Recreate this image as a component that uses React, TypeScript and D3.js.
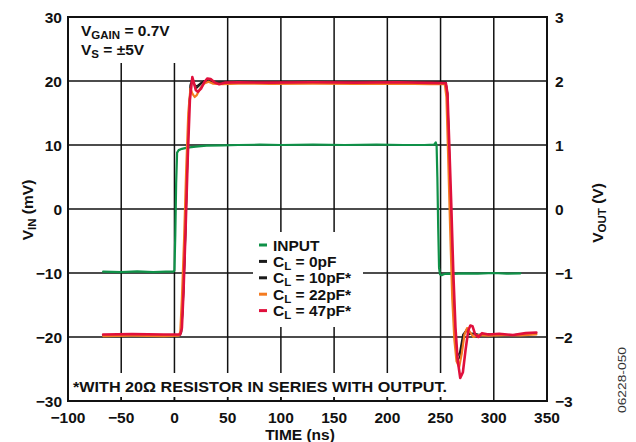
import React from "react";
import * as d3 from "d3";

const W = 636;
const H = 442;

// x and y axis ticks
const xTicks = [-100, -50, 0, 50, 100, 150, 200, 250, 300, 350];
const yLeftTicks = [30, 20, 10, 0, -10, -20, -30];
const yRightTicks = [3, 2, 1, 0, -1, -2, -3];
const xGrid = [-50, 0, 50, 100, 150, 200, 250, 300];
const yGrid = [20, 10, 0, -10, -20];

// INPUT (mV)
const inputT = [-67, -50, -35, -20, -8, -1, 0, 0.8, 1.6, 2.5, 4, 7, 12, 20, 30, 45, 60, 80, 100, 130, 160, 190, 215, 235, 244, 245.5, 246.3, 247, 247.8, 248.6, 249.5, 251, 253, 256, 262, 272, 285, 300, 312, 325];
const inputV = [-9.8, -9.85, -9.75, -9.85, -9.8, -9.8, -9.6, -4, 4, 8.8, 9.2, 9.4, 9.6, 9.75, 9.9, 9.95, 10, 10.05, 10, 10.05, 10, 10.05, 10, 10, 10.05, 10.4, 9.9, 5, -3, -9.2, -10.2, -10.35, -10.2, -10.1, -10.15, -10.05, -10.1, -10, -10.1, -10.05];

// C_L = 0pF (V x 10 on left scale)
const cl0T = [-67, -40, -10, 5, 6.5, 8, 10, 12, 13.5, 15, 17, 19, 21, 24, 28, 32, 36, 45, 60, 90, 130, 170, 210, 240, 255, 256.5, 258, 260, 262, 264, 266, 268, 271, 274, 277, 281, 286, 295, 310, 325, 340];
const cl0V = [-19.7, -19.7, -19.75, -19.7, -19.2, -15, -6, 6, 15, 19.5, 20.1, 19.4, 19.2, 19.6, 20.0, 19.95, 19.75, 19.8, 19.9, 19.85, 19.9, 19.85, 19.9, 19.85, 19.8, 18, 10, -2, -14, -21, -23, -22.4, -19.6, -19.0, -19.6, -19.4, -19.7, -19.6, -19.7, -19.6, -19.5];

// C_L = 10pF
const cl10T = [-67, -40, -10, 5, 6.5, 8, 10, 12, 13.5, 15, 17, 19, 21, 24, 28, 32, 36, 45, 60, 90, 130, 170, 210, 240, 255, 256.5, 258, 260, 262, 264, 266, 268, 271, 274, 277, 281, 286, 295, 310, 325, 340];
const cl10V = [-19.75, -19.7, -19.7, -19.7, -19.3, -15.5, -6.5, 5.5, 14.5, 19.3, 20.2, 19.2, 18.9, 19.4, 20.0, 20.0, 19.8, 19.75, 19.85, 19.8, 19.85, 19.8, 19.85, 19.8, 19.75, 18.2, 10.5, -1.5, -13.5, -21, -23.6, -23.2, -20.2, -18.9, -19.4, -19.5, -19.6, -19.55, -19.7, -19.6, -19.5];

// C_L = 22pF
const cl22T = [-67, -40, -10, 4, 5.5, 7, 9, 11, 13, 15, 17, 19, 21, 24, 28, 32, 36, 45, 60, 90, 130, 170, 210, 240, 254, 255.5, 257, 259, 261, 263, 265, 267.5, 270, 272.5, 275, 278, 281, 286, 295, 310, 325, 340];
const cl22V = [-19.85, -19.8, -19.85, -19.8, -19.2, -14, -5, 6, 15, 18.8, 18.0, 17.5, 17.8, 18.8, 19.6, 19.9, 19.6, 19.5, 19.6, 19.55, 19.6, 19.55, 19.6, 19.5, 19.5, 17.5, 9, -3, -14, -20.5, -23.8, -24.7, -22.5, -19.6, -18.6, -19.3, -20.0, -19.7, -19.8, -19.7, -19.75, -19.6];

// C_L = 47pF
const cl47T = [-67, -40, -10, 5.5, 7, 8.5, 10.5, 12.5, 14.5, 16.8, 18.5, 20, 22, 25, 28, 31, 34, 38, 42, 48, 60, 90, 130, 170, 210, 240, 255, 256.5, 258, 260, 262, 264, 266, 268.5, 271, 273.5, 276, 278, 280, 282.5, 285.5, 289, 295, 305, 318, 330, 340];
const cl47V = [-19.6, -19.55, -19.6, -19.6, -18.6, -13, -3, 8, 17, 20.6, 19.6, 18.6, 18.3, 18.8, 19.8, 20.4, 20.3, 19.75, 19.5, 19.75, 19.8, 19.75, 19.8, 19.75, 19.8, 19.7, 19.65, 18, 11, 1, -10, -18.5, -23.5, -26.4, -25.5, -22, -19, -18.2, -18.3, -19.6, -20.0, -19.4, -19.6, -19.5, -19.7, -19.4, -19.3];

const series = [
  { name: "INPUT", t: inputT, v: inputV, color: "#0f9148", width: 2.2 },
  { name: "0pF", t: cl0T, v: cl0V, color: "#1a1a1a", width: 1.6 },
  { name: "10pF", t: cl10T, v: cl10V, color: "#1a1a1a", width: 1.6 },
  { name: "22pF", t: cl22T, v: cl22V, color: "#f47b20", width: 2.2 },
  { name: "47pF", t: cl47T, v: cl47V, color: "#e0103c", width: 2.6 },
];

const legendLabels = ["INPUT", "0pF", "10pF*", "22pF*", "47pF*"];
const legendColors = ["#0f9148", "#1a1a1a", "#1a1a1a", "#f47b20", "#e0103c"];

const FONT = "'Liberation Sans', Arial, Helvetica, sans-serif";

export default function App() {
  const left = 68, right = 547, top = 17, bottom = 401;
  const x = d3.scaleLinear().domain([-100, 350]).range([left, right]);
  const y = d3.scaleLinear().domain([-30, 30]).range([bottom, top]);
  const yR = d3.scaleLinear().domain([-3, 3]).range([bottom, top]);

  const line = d3
    .line<[number, number]>()
    .x((d) => x(d[0]))
    .y((d) => y(d[1]))
    .curve(d3.curveLinear);

  const fs = 15.5;
  const sub = 11.5;

  return (
    <svg width={W} height={H} style={{ position: "absolute", left: 0, top: 0, background: "#fff" }} fontFamily={FONT}>
      <rect x={0} y={0} width={W} height={H} fill="#fff" />
      {/* grid */}
      {xGrid.map((g) => (
        <line key={"xg" + g} x1={x(g)} x2={x(g)} y1={top} y2={bottom} stroke="#111" strokeWidth={1.5} />
      ))}
      {yGrid.map((g) => (
        <line key={"yg" + g} x1={left} x2={right} y1={y(g)} y2={y(g)} stroke="#111" strokeWidth={1.5} />
      ))}
      {/* white boxes over grid */}
      <rect x={left + 1} y={top + 1} width={111} height={45} fill="#fff" />
      <rect x={253} y={232} width={110} height={95} fill="#fff" />
      <rect x={left + 1} y={373} width={381} height={24} fill="#fff" />
      {/* little bottom ticks under footnote box */}
      {xGrid.filter((g) => x(g) < 451).map((g) => (
        <line key={"bt" + g} x1={x(g)} x2={x(g)} y1={bottom - 4} y2={bottom} stroke="#111" strokeWidth={1.5} />
      ))}
      {/* series */}
      {series.map((s) => {
        const pts: [number, number][] = s.t.map((t, i) => [t, s.v[i]]);
        return (
          <path
            key={s.name}
            d={line(pts) || ""}
            fill="none"
            stroke={s.color}
            strokeWidth={s.width}
            strokeLinejoin="round"
            strokeLinecap="round"
          />
        );
      })}
      {/* frame */}
      <rect x={left} y={top} width={right - left} height={bottom - top} fill="none" stroke="#111" strokeWidth={2} />
      {/* left tick labels */}
      {yLeftTicks.map((t) => (
        <text key={"yl" + t} x={62} y={y(t)} dy="0.36em" textAnchor="end" fontSize={fs} fontWeight="bold" fill="#111">
          {t < 0 ? "\u2212" + Math.abs(t) : t}
        </text>
      ))}
      {/* right tick labels */}
      {yRightTicks.map((t) => (
        <text key={"yr" + t} x={555} y={yR(t)} dy="0.36em" textAnchor="start" fontSize={fs} fontWeight="bold" fill="#111">
          {t < 0 ? "\u2212" + Math.abs(t) : t}
        </text>
      ))}
      {/* x tick labels */}
      {xTicks.map((t) => (
        <text key={"xl" + t} x={x(t)} y={423} textAnchor="middle" fontSize={fs} fontWeight="bold" fill="#111">
          {t < 0 ? "\u2212" + Math.abs(t) : t}
        </text>
      ))}
      {/* axis titles */}
      <text x={300} y={440} textAnchor="middle" fontSize={fs} fontWeight="bold" fill="#111">
        TIME (ns)
      </text>
      <text transform="translate(33,210) rotate(-90)" textAnchor="middle" fontSize={fs} fontWeight="bold" fill="#111">
        V<tspan fontSize={sub} dy={3}>IN</tspan>
        <tspan dy={-3}> (mV)</tspan>
      </text>
      <text transform="translate(603,213) rotate(-90)" textAnchor="middle" fontSize={fs} fontWeight="bold" fill="#111">
        V<tspan fontSize={sub} dy={3}>OUT</tspan>
        <tspan dy={-3}> (V)</tspan>
      </text>
      {/* annotations */}
      <text x={81} y={36} fontSize={fs} fontWeight="bold" fill="#111">
        V<tspan fontSize={sub} dy={3}>GAIN</tspan>
        <tspan dy={-3}> = 0.7V</tspan>
      </text>
      <text x={81} y={55} fontSize={fs} fontWeight="bold" fill="#111">
        V<tspan fontSize={sub} dy={3}>S</tspan>
        <tspan dy={-3}> = ±5V</tspan>
      </text>
      <text x={73} y={392} fontSize={fs} fontWeight="bold" fill="#111" textLength={374} lengthAdjust="spacingAndGlyphs">
        *WITH 20Ω RESISTOR IN SERIES WITH OUTPUT.
      </text>
      {/* legend */}
      {legendLabels.map((l, i) => {
        const cy = 245 + i * 16.4;
        return (
          <g key={"lg" + i}>
            <line x1={259} x2={267} y1={cy} y2={cy} stroke={legendColors[i]} strokeWidth={3} />
            {i === 0 ? (
              <text x={273} y={cy} dy="0.36em" fontSize={fs} fontWeight="bold" fill="#111">
                {l}
              </text>
            ) : (
              <text x={273} y={cy} dy="0.36em" fontSize={fs} fontWeight="bold" fill="#111">
                C<tspan fontSize={sub} dy={3}>L</tspan>
                <tspan dy={-3}>{" = " + l}</tspan>
              </text>
            )}
          </g>
        );
      })}
      {/* figure code */}
      <text transform="translate(626,413) rotate(-90)" fontSize={10.5} fill="#333" textLength={66} lengthAdjust="spacingAndGlyphs">
        06228-050
      </text>
    </svg>
  );
}
